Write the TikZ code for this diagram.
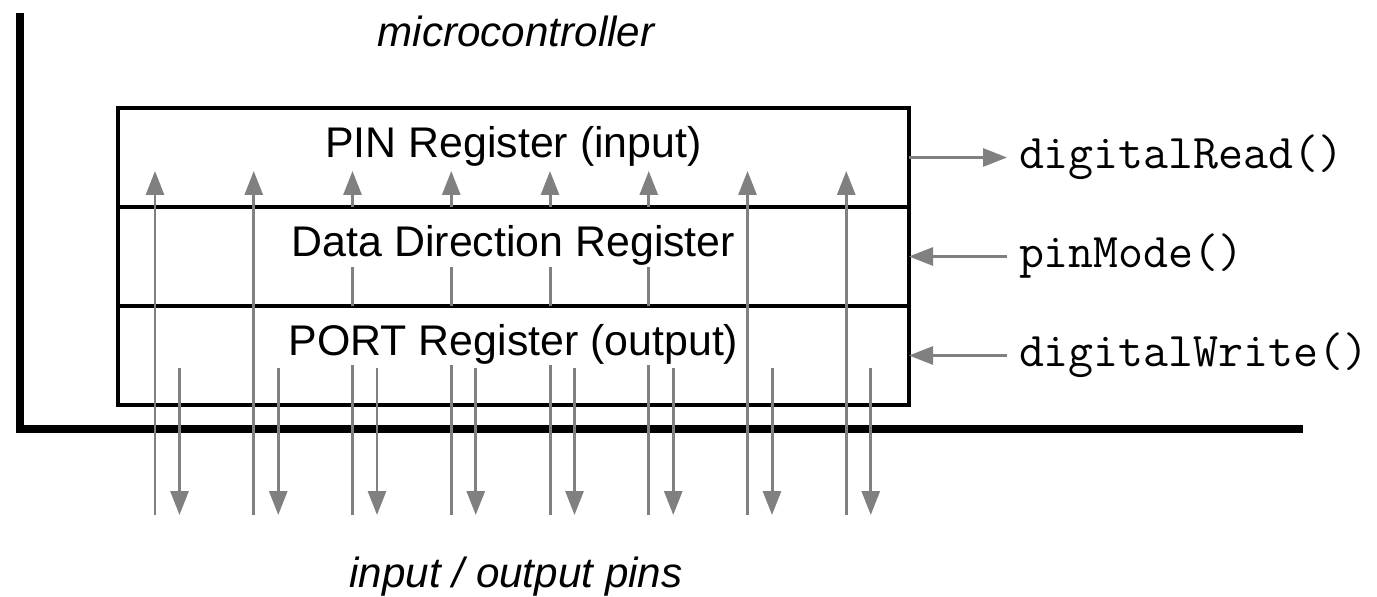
\documentclass[tikz,border=0pt]{standalone}
\usepackage{fontspec}
\setmainfont{Liberation Sans}
\usetikzlibrary{arrows.meta, positioning}

\begin{document}
\begin{tikzpicture}[
% registers
reg/.style={draw, line width=2pt, outer sep=0, minimum width=15.82cm, inner ysep=0, text height=1cm, text depth=0.98cm, font=\fontsize{24.4}{28}\selectfont},
% pins and function calls
wire/.style={draw=gray, line width=1.7pt},
pinarrow/.style={-{Triangle[length=0.48cm, width=0.36cm]}},
call/.style={font=\ttfamily\fontsize{27.6}{30}\selectfont, inner xsep=0.24cm, outer sep=0},
% annotations
annot/.style={font=\itshape\fontsize{24}{28}\selectfont, anchor=base},
% chip outline
chip/.style={line width=4.8pt}
]

\useasboundingbox (0,0) rectangle (27.54,11.92);

% CHIP OUTLINE
\draw[chip] (0.40,11.66) -- (0.40,3.34) -- (26.06,3.34);

% REGISTERS
\node[reg] (pinreg) at (10.27,8.77) {PIN Register (input)};
\node[reg, below=0pt of pinreg] (ddreg) {Data Direction Register};
\node[reg, below=0pt of ddreg] (portreg) {PORT Register (output)};

% function calls
\node[call, right=1.96cm of pinreg] (rd) {digitalRead()};
\node[call, right=1.96cm of ddreg] (pm) {pinMode()};
\node[call, right=1.96cm of portreg] (wr) {digitalWrite()};
\draw[wire, pinarrow] (pinreg.east) -- (rd.west);
\draw[wire, pinarrow] (pm.west) -- (ddreg.east);
\draw[wire, pinarrow] (wr.west) -- (portreg.east);

% annotations
\node[annot] (mcu) at (10.32,10.98) {microcontroller};
\node[annot] (pins) at (10.32,0.18) {input / output pins};

% HORIZONTAL COORDINATES
\foreach \i in {1,...,8} {
\coordinate (in\i) at ({3.10+1.975*(\i-1)},0);  % input pin i
\coordinate (out\i) at ({3.59+1.975*(\i-1)},0); % output pin i
}

% VERTICAL COORDINATES
\coordinate (bottom) at (0,1.62);   % pin ends
\coordinate (top) at (0,8.50);      % arrow tips in PIN register
\coordinate (portgap) at (0,4.62);  % under PORT label
\coordinate (outstart) at (0,4.56); % output pins start
\coordinate (ddrgap) at (0,6.58);   % under DDR label

% PINS
% input pins beside the labels
\foreach \i in {1,2,7,8}
\draw[wire, pinarrow] (in\i|-bottom) -- (in\i|-top);
% input pins broken by the labels
\foreach \i in {3,...,6} {
\draw[wire] (in\i|-bottom) -- (in\i|-portgap);
\draw[wire] (in\i|-ddreg.south) -- (in\i|-ddrgap);
\draw[wire, pinarrow] (in\i|-pinreg.south) -- (in\i|-top);
}
% output pins
\foreach \i in {1,...,8}
\draw[wire, pinarrow] (out\i|-outstart) -- (out\i|-bottom);

\end{tikzpicture}
\end{document}
